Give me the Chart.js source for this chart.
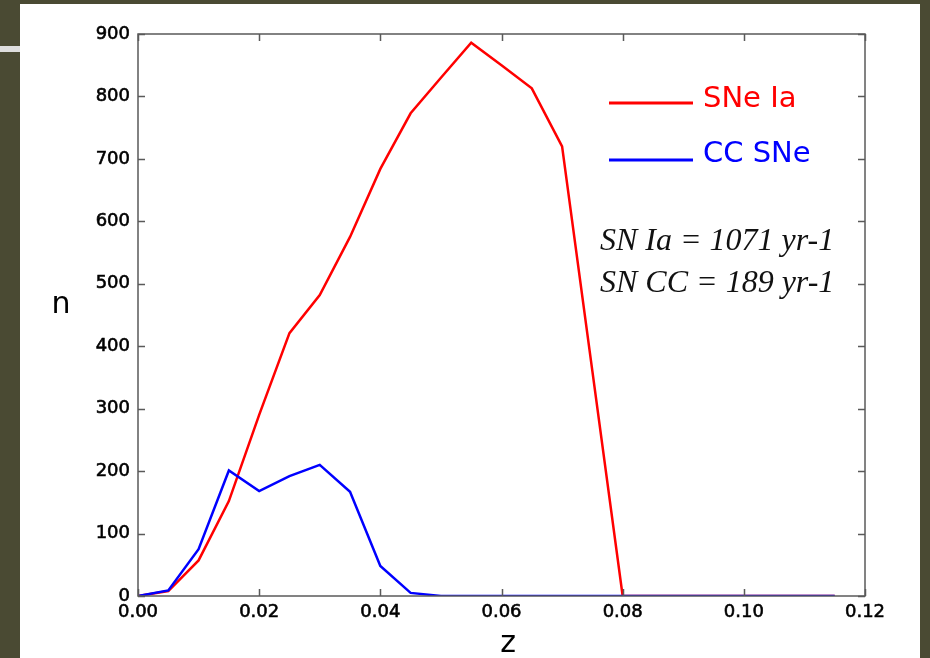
<!DOCTYPE html>
<html>
<head>
<meta charset="utf-8">
<script src="https://cdn.jsdelivr.net/npm/chart.js@4"></script>
<style>
  html, body { margin: 0; padding: 0; }
  body { width: 930px; height: 658px; background: #4a4a33; position: relative; overflow: hidden; }
  #stripe { position: absolute; left: 0; top: 46px; width: 20px; height: 6px; background: #dedede; }
  #panel { position: absolute; left: 20px; top: 4px; width: 900px; height: 654px; background: #fff; }
  #wrap { position: absolute; left: 0; top: 0; width: 930px; height: 658px; }
</style>
</head>
<body>
<div id="stripe"></div>
<div id="panel"></div>
<div id="wrap"><canvas id="rates" width="930" height="658"></canvas></div>
<script>
// redshift bins
const zBins = [0, 0.005, 0.01, 0.015, 0.02, 0.025, 0.03, 0.035, 0.04, 0.045, 0.05, 0.055,
               0.06, 0.065, 0.07, 0.075, 0.08, 0.085, 0.09, 0.095, 0.1, 0.105, 0.11, 0.115];
// counts per bin
const snIa = [0, 8, 57, 152, 290, 421, 482, 575, 684, 773, 830, 886,
              850, 813, 720, 360, 0, 0, 0, 0, 0, 0, 0, 0];
const ccSNe = [0, 9, 75, 201, 168, 192, 210, 167, 48, 5, 0, 0,
               0, 0, 0, 0, 0, 0, 0, 0, 0, 0, 0, 0];

const seriesNames = ['SNe Ia', 'CC SNe'];
const seriesColors = ['#ff0000', '#0000ff'];
const rateLines = ['SN Ia = 1071 yr-1', 'SN CC = 189 yr-1'];

const xTicks = [0, 0.02, 0.04, 0.06, 0.08, 0.1, 0.12];
const yTicks = [0, 100, 200, 300, 400, 500, 600, 700, 800, 900];

const toPoints = vals => zBins.map((z, i) => ({ x: z, y: vals[i] }));

// matplotlib-like box with inward ticks on all four sides
const frame = {
  id: 'frame',
  afterDatasetsDraw(chart) {
    const { ctx, chartArea: a, scales: { x, y } } = chart;
    const len = 7;
    ctx.save();
    ctx.strokeStyle = '#5a5a5a';
    ctx.lineWidth = 1.5;
    ctx.beginPath();
    xTicks.forEach(v => {
      const px = Math.round(x.getPixelForValue(v)) + 0.5;
      ctx.moveTo(px, a.bottom); ctx.lineTo(px, a.bottom - len);
      ctx.moveTo(px, a.top); ctx.lineTo(px, a.top + len);
    });
    yTicks.forEach(v => {
      const py = Math.round(y.getPixelForValue(v)) + 0.5;
      ctx.moveTo(a.left, py); ctx.lineTo(a.left + len, py);
      ctx.moveTo(a.right, py); ctx.lineTo(a.right - len, py);
    });
    ctx.stroke();
    ctx.strokeRect(a.left, a.top, a.right - a.left, a.bottom - a.top);
    ctx.restore();
  },
  afterDraw(chart) {
    const { ctx } = chart;
    ctx.save();
    ctx.fillStyle = '#000';
    ctx.textAlign = 'center';
    ctx.textBaseline = 'alphabetic';
    ctx.font = '30px "DejaVu Sans"';
    ctx.fillText('n', 61, 313);
    ctx.fillText('z', 508, 652);

    // legend
    ctx.textAlign = 'left';
    ctx.font = '29px "DejaVu Sans"';
    const rows = [{ ly: 103, ty: 107 }, { ly: 160, ty: 162 }];
    rows.forEach((r, i) => {
      ctx.strokeStyle = seriesColors[i];
      ctx.lineWidth = 3;
      ctx.beginPath();
      ctx.moveTo(609, r.ly); ctx.lineTo(693, r.ly);
      ctx.stroke();
      ctx.fillStyle = seriesColors[i];
      ctx.fillText(seriesNames[i], 703, r.ty);
    });

    // yearly rates
    ctx.fillStyle = '#111';
    ctx.font = 'italic 32px "Liberation Serif"';
    ctx.fillText(rateLines[0], 600, 250);
    ctx.fillText(rateLines[1], 600, 292);
    ctx.restore();
  }
};

const tickFont = { family: 'DejaVu Sans', size: 18 };

new Chart(document.getElementById('rates'), {
  type: 'line',
  data: {
    datasets: [
      { label: seriesNames[0], data: toPoints(snIa), borderColor: seriesColors[0], order: 1 },
      { label: seriesNames[1], data: toPoints(ccSNe), borderColor: seriesColors[1], order: 0 }
    ]
  },
  options: {
    responsive: false,
    animation: false,
    devicePixelRatio: 1,
    layout: { padding: { left: 0, top: 34, right: 65, bottom: 0 } },
    elements: {
      line: { borderWidth: 2.5, tension: 0, fill: false },
      point: { radius: 0 }
    },
    plugins: { legend: { display: false }, tooltip: { enabled: false } },
    scales: {
      x: {
        type: 'linear',
        min: 0,
        max: 0.12,
        grid: { display: false, drawTicks: false },
        border: { display: false },
        afterBuildTicks: s => { s.ticks = xTicks.map(v => ({ value: v })); },
        afterFit: s => { s.height = 62; },
        ticks: {
          padding: 6,
          color: '#000',
          textStrokeColor: '#000',
          textStrokeWidth: 0.6,
          font: tickFont,
          maxRotation: 0,
          callback: v => v.toFixed(2)
        }
      },
      y: {
        min: 0,
        max: 900,
        grid: { display: false, drawTicks: false },
        border: { display: false },
        afterBuildTicks: s => { s.ticks = yTicks.map(v => ({ value: v })); },
        afterFit: s => { s.width = 138; },
        ticks: {
          padding: 8,
          color: '#000',
          textStrokeColor: '#000',
          textStrokeWidth: 0.6,
          font: tickFont
        }
      }
    }
  },
  plugins: [frame]
});
</script>
</body>
</html>
